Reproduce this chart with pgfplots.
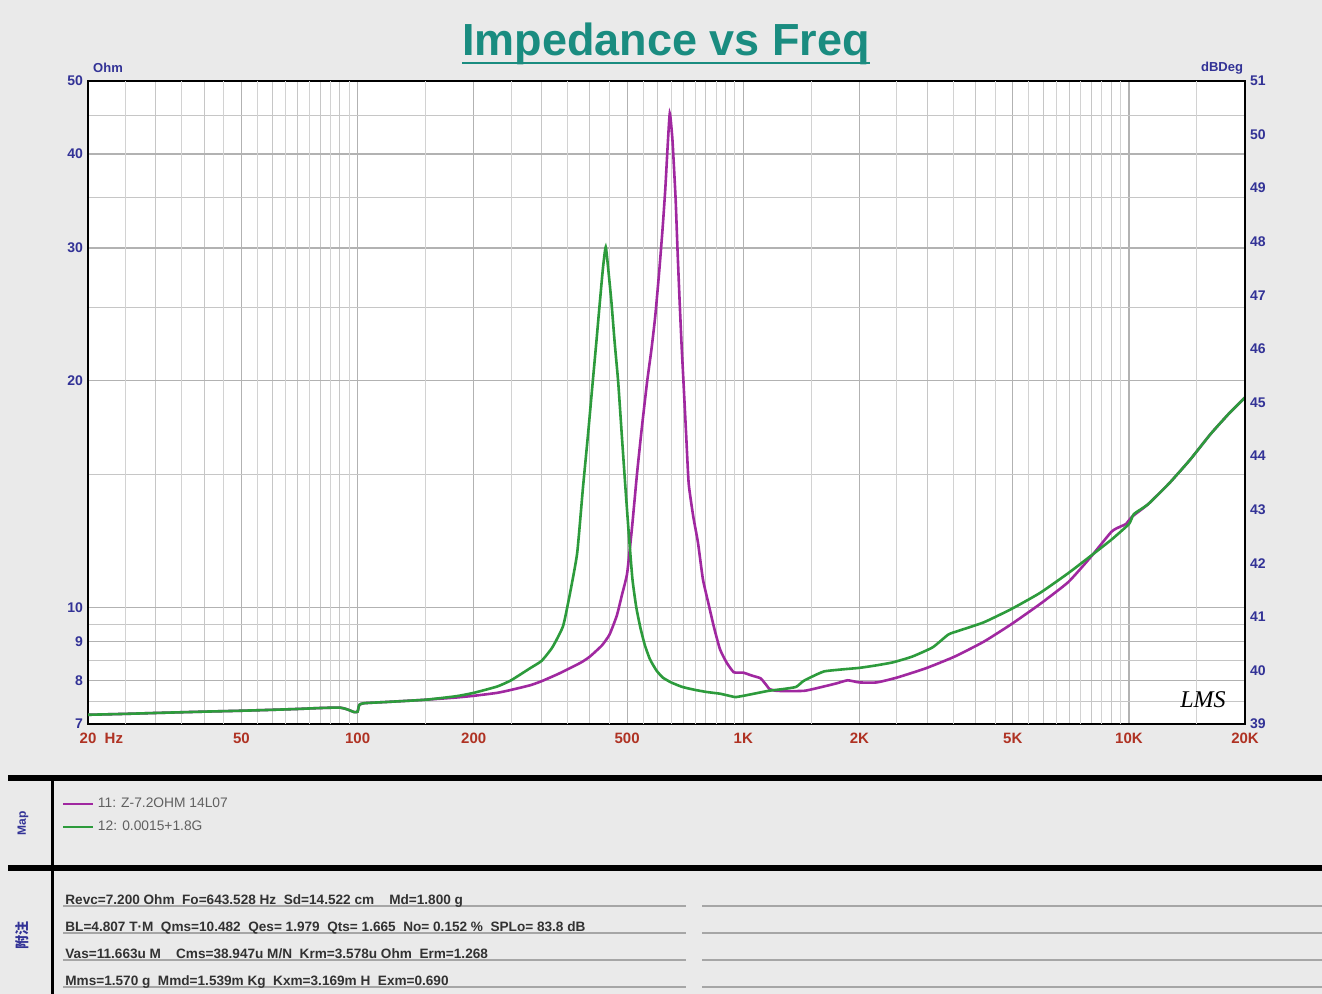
\documentclass[border=0pt]{standalone}
\usepackage{pgfplots}
\pgfplotsset{compat=1.18}
\usepackage{fontspec}
\setmainfont{Liberation Sans}
\newfontfamily\cjk{Noto Sans CJK SC}
\newfontfamily\hand{Liberation Serif}
\definecolor{teal1}{RGB}{26,140,128}
\definecolor{navy1}{RGB}{50,50,150}
\definecolor{red1}{RGB}{175,50,35}
\definecolor{mag}{RGB}{160,40,160}
\definecolor{grn}{RGB}{45,155,60}
\definecolor{bg}{RGB}{234,234,234}
\definecolor{txt}{RGB}{50,50,50}
\begin{document}
\begin{tikzpicture}
\useasboundingbox (0pt,0pt) rectangle (661pt,-497pt);
\fill[bg] (0pt,0pt) rectangle (661pt,-497pt);
% ---------- main impedance axis ----------
\begin{axis}[
  at={(44pt,-40.5pt)}, anchor=north west,
  scale only axis, width=578.5pt, height=321.5pt,
  xmode=log, ymode=log,
  xmin=20, xmax=20000, ymin=7, ymax=50,
  axis background/.style={fill=white},
  axis line style={line width=1pt, black},
  major tick length=0pt, minor tick length=0pt,
  xtick={20,50,100,200,500,1000,2000,5000,10000,20000},
  xticklabels={20\rlap{\ \ Hz},50,100,200,500,1K,2K,5K,10K,20K},
  minor xtick={30,40,60,70,80,90,300,400,600,700,800,900,3000,4000,6000,7000,8000,9000},
  extra x ticks={25,35,45,55,65,75,85,95,150,250,350,450,550,650,750,850,950,1500,2500,3500,4500,5500,6500,7500,8500,9500,15000},
  extra x tick style={grid=major, major grid style={gray!35, line width=0.5pt}, xticklabel={}},
  ytick={7,8,9,10,20,30,40,50},
  yticklabels={7,8,9,10,20,30,40,50},
  minor ytick={7.5,8.5,9.5,15,25,35,45},
  grid=both,
  major grid style={gray!60, line width=0.6pt},
  minor grid style={gray!45, line width=0.5pt},
  xticklabel style={font=\bfseries\fontsize{7.5}{8}\selectfont, text=red1, yshift=-1pt},
  yticklabel style={font=\bfseries\fontsize{7}{8}\selectfont, text=navy1, xshift=1pt},
  legend style={at={(-0.0225,-0.108)}, anchor=north west, draw=none, fill=none,
    font=\fontsize{6.9}{7.5}\selectfont\color{gray!75!black}, row sep=1.2pt, inner sep=0pt},
  legend cell align=left,
  legend image code/.code={\draw[#1, line width=0.8pt] (0pt,0pt) -- (15pt,0pt);},
]
\addplot[mag, line width=1.3pt, smooth, tension=0.3] coordinates {
(20,7.20)(25,7.22)(30,7.24)(40,7.27)(50,7.29)(60,7.31)(70,7.33)(80,7.35)(90,7.36)(94,7.32)(98,7.26)(100,7.27)(101,7.42)(104,7.46)(120,7.49)(150,7.54)(180,7.59)(200,7.63)(230,7.70)(250,7.77)(280,7.88)(300,7.98)(330,8.15)(350,8.27)(380,8.45)(400,8.60)(430,8.90)(450,9.20)(470,9.75)(485,10.4)(500,11.1)(515,12.8)(530,15.0)(545,17.2)(563,19.9)(578,22.0)(591,24.3)(605,27.8)(618,31.9)(628,36.0)(636,40.5)(645,45.3)(655,41.9)(662,38.0)(668,34.7)(676,29.5)(684,25.5)(692,22.3)(700,19.9)(711,17.0)(722,14.6)(742,13.2)(763,12.2)(786,10.9)(813,10.1)(840,9.4)(870,8.8)(905,8.45)(945,8.2)(1000,8.19)(1050,8.12)(1108,8.05)(1140,7.92)(1170,7.79)(1216,7.75)(1300,7.74)(1444,7.75)(1600,7.84)(1750,7.93)(1866,8.0)(2000,7.95)(2220,7.95)(2510,8.07)(2975,8.3)(3530,8.6)(4200,9.0)(4960,9.5)(5880,10.1)(6960,10.8)(7960,11.66)(9010,12.6)(9500,12.8)(9820,12.9)(10200,13.2)(11200,13.7)(12700,14.6)(14400,15.7)(16300,17.0)(18200,18.1)(20000,19.0)
};
\addlegendentry{11: Z-7.2OHM 14L07}
\addplot[grn, line width=1.3pt, smooth, tension=0.3] coordinates {
(20,7.20)(25,7.22)(30,7.24)(40,7.27)(50,7.29)(60,7.31)(70,7.33)(80,7.35)(90,7.36)(94,7.32)(98,7.26)(100,7.27)(101,7.42)(104,7.46)(120,7.49)(150,7.54)(180,7.62)(200,7.70)(230,7.85)(250,8.0)(280,8.3)(300,8.49)(320,8.85)(341,9.44)(355,10.4)(371,11.8)(384,14.4)(396,17.0)(407,19.9)(416,22.5)(425,25.5)(433,28.3)(440,30.1)(447,28.0)(455,25.5)(464,22.5)(474,19.9)(484,17.0)(494,14.6)(505,12.5)(516,10.9)(528,10.0)(541,9.4)(556,8.9)(573,8.53)(595,8.25)(618,8.07)(650,7.95)(695,7.84)(750,7.77)(804,7.72)(870,7.68)(930,7.62)(955,7.6)(1000,7.63)(1080,7.69)(1167,7.75)(1270,7.79)(1370,7.84)(1430,7.98)(1500,8.08)(1620,8.22)(1800,8.27)(2000,8.31)(2200,8.37)(2440,8.45)(2740,8.6)(3100,8.85)(3400,9.2)(3600,9.3)(4200,9.55)(4960,9.95)(5880,10.45)(6960,11.1)(7960,11.7)(9010,12.3)(10000,12.9)(10300,13.3)(11200,13.7)(12700,14.6)(14400,15.7)(16300,17.0)(18200,18.1)(20000,19.0)
};
\addlegendentry{12: 0.0015+1.8G}
\end{axis}
% ---------- right dB/Deg axis ----------
\begin{axis}[
  at={(44pt,-40.5pt)}, anchor=north west,
  scale only axis, width=578.5pt, height=321.5pt,
  xmode=log, xmin=20, xmax=20000, ymin=39, ymax=51,
  axis x line=none, axis y line*=right,
  axis line style={line width=1pt, black},
  major tick length=0pt,
  ytick={39,40,...,51},
  yticklabels={39,40,41,42,43,44,45,46,47,48,49,50,51},
  yticklabel style={font=\bfseries\fontsize{7}{8}\selectfont, text=navy1, xshift=-1pt},
]
\addplot[draw=none] coordinates {(20,39)(20000,51)};
\end{axis}
\begin{scope}[x=0.5pt,y=-0.5pt]
% title
\node[text=teal1, font=\bfseries\fontsize{22.5}{26}\selectfont, anchor=base] at (666,56) {Impedance vs Freq};
\draw[teal1, line width=1.3pt] (462,63) -- (870,63);
% unit labels
\node[text=navy1, font=\bfseries\fontsize{6.5}{7}\selectfont] at (108,68) {Ohm};
\node[text=navy1, font=\bfseries\fontsize{6.5}{7}\selectfont] at (1222,68) {dBDeg};
% LMS mark
\node[font=\hand\itshape\fontsize{12}{14}\selectfont] at (1203,700) {LMS};
% panel separators
\fill[black] (8,775) rectangle (1322,781);
\fill[black] (8,865) rectangle (1322,871);
\fill[black] (50.5,778) rectangle (53.5,994);
\node[rotate=90, text=navy1, font=\bfseries\fontsize{6}{7}\selectfont] at (23,823) {Map};
\node[rotate=90, text=navy1, font=\cjk\bfseries\fontsize{7}{8}\selectfont] at (22,935) {附注};
% parameter rows
\foreach \yy in {906,933,960,987} {
  \draw[gray!70, line width=1pt] (63,\yy) -- (686,\yy);
  \draw[gray!70, line width=1pt] (702,\yy) -- (1322,\yy);
}
\begin{scope}[every node/.style={anchor=base west, text=txt, font=\bfseries\fontsize{6.8}{7.5}\selectfont, inner sep=0pt}]
\node at (65,904) {Revc=7.200 Ohm\ \ Fo=643.528 Hz\ \ Sd=14.522 cm\ \ \ \ Md=1.800 g};
\node at (65,931) {BL=4.807 T·M\ \ Qms=10.482\ \ Qes= 1.979\ \ Qts= 1.665\ \ No= 0.152 \%\ \ SPLo= 83.8 dB};
\node at (65,958) {Vas=11.663u M\ \ \ \ Cms=38.947u M/N\ \ Krm=3.578u Ohm\ \ Erm=1.268};
\node at (65,985) {Mms=1.570 g\ \ Mmd=1.539m Kg\ \ Kxm=3.169m H\ \ Exm=0.690};
\end{scope}
\end{scope}
\end{tikzpicture}
\end{document}
